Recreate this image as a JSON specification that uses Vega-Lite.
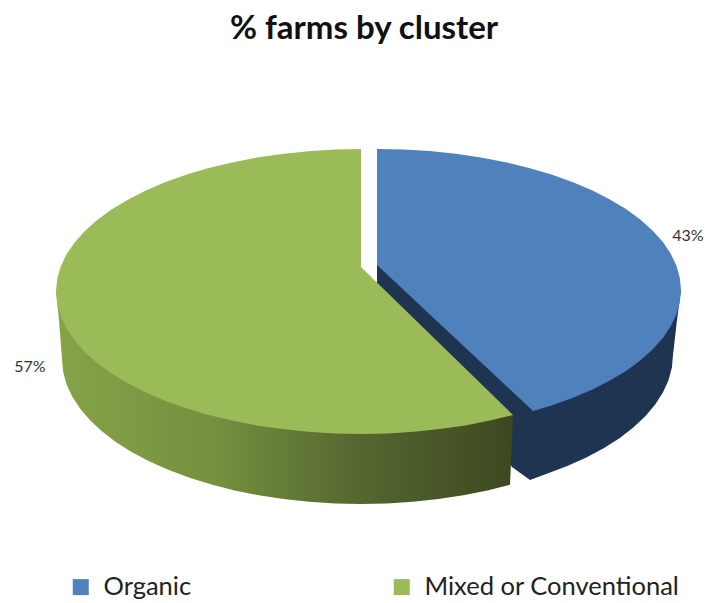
{
  "$schema": "https://vega.github.io/schema/vega-lite/v6.json",
  "width": 708,
  "height": 543,
  "autosize": {"type": "none"},
  "padding": {"left": 0, "top": 60, "right": 0, "bottom": 0},
  "background": "white",
  "title": {"text": "% farms by cluster", "font": "Lato", "fontSize": 33, "fontWeight": "bold", "color": "#111111", "anchor": "middle", "frame": "group", "dx": 10, "offset": 14},
  "config": {"view": {"stroke": null}},
  "datasets": {
    "outline": [
      {"cluster": "Organic", "part": "wall", "i": 0, "x": 377, "y": 265},
      {"cluster": "Organic", "part": "wall", "i": 1, "x": 377, "y": 285},
      {"cluster": "Organic", "part": "wall", "i": 2, "x": 480, "y": 420},
      {"cluster": "Organic", "part": "wall", "i": 3, "x": 512, "y": 467},
      {"cluster": "Organic", "part": "wall", "i": 4, "x": 530, "y": 480},
      {"cluster": "Organic", "part": "wall", "i": 5, "x": 546.8, "y": 473.8},
      {"cluster": "Organic", "part": "wall", "i": 6, "x": 567.3, "y": 466.1},
      {"cluster": "Organic", "part": "wall", "i": 7, "x": 586.3, "y": 457.5},
      {"cluster": "Organic", "part": "wall", "i": 8, "x": 603.7, "y": 448.2},
      {"cluster": "Organic", "part": "wall", "i": 9, "x": 619.5, "y": 438.2},
      {"cluster": "Organic", "part": "wall", "i": 10, "x": 633.3, "y": 427.5},
      {"cluster": "Organic", "part": "wall", "i": 11, "x": 645.3, "y": 416.3},
      {"cluster": "Organic", "part": "wall", "i": 12, "x": 655.2, "y": 404.6},
      {"cluster": "Organic", "part": "wall", "i": 13, "x": 662.9, "y": 392.5},
      {"cluster": "Organic", "part": "wall", "i": 14, "x": 668.5, "y": 380.2},
      {"cluster": "Organic", "part": "wall", "i": 15, "x": 671.9, "y": 367.6},
      {"cluster": "Organic", "part": "wall", "i": 16, "x": 673, "y": 355},
      {"cluster": "Organic", "part": "wall", "i": 17, "x": 677, "y": 320},
      {"cluster": "Organic", "part": "wall", "i": 18, "x": 681, "y": 290},

      {"cluster": "Mixed or Conventional", "part": "wall", "i": 0, "x": 513, "y": 415},
      {"cluster": "Mixed or Conventional", "part": "wall", "i": 1, "x": 510, "y": 484.7},
      {"cluster": "Mixed or Conventional", "part": "wall", "i": 2, "x": 487.4, "y": 490.4},
      {"cluster": "Mixed or Conventional", "part": "wall", "i": 3, "x": 463.3, "y": 495.3},
      {"cluster": "Mixed or Conventional", "part": "wall", "i": 4, "x": 438.4, "y": 499.1},
      {"cluster": "Mixed or Conventional", "part": "wall", "i": 5, "x": 412.9, "y": 501.8},
      {"cluster": "Mixed or Conventional", "part": "wall", "i": 6, "x": 387.1, "y": 503.4},
      {"cluster": "Mixed or Conventional", "part": "wall", "i": 7, "x": 361, "y": 504},
      {"cluster": "Mixed or Conventional", "part": "wall", "i": 8, "x": 334.9, "y": 503.4},
      {"cluster": "Mixed or Conventional", "part": "wall", "i": 9, "x": 309.1, "y": 501.8},
      {"cluster": "Mixed or Conventional", "part": "wall", "i": 10, "x": 283.6, "y": 499.1},
      {"cluster": "Mixed or Conventional", "part": "wall", "i": 11, "x": 258.7, "y": 495.3},
      {"cluster": "Mixed or Conventional", "part": "wall", "i": 12, "x": 234.6, "y": 490.4},
      {"cluster": "Mixed or Conventional", "part": "wall", "i": 13, "x": 211.5, "y": 484.6},
      {"cluster": "Mixed or Conventional", "part": "wall", "i": 14, "x": 189.5, "y": 477.8},
      {"cluster": "Mixed or Conventional", "part": "wall", "i": 15, "x": 168.8, "y": 470.1},
      {"cluster": "Mixed or Conventional", "part": "wall", "i": 16, "x": 149.6, "y": 461.5},
      {"cluster": "Mixed or Conventional", "part": "wall", "i": 17, "x": 132, "y": 452.2},
      {"cluster": "Mixed or Conventional", "part": "wall", "i": 18, "x": 116.1, "y": 442.2},
      {"cluster": "Mixed or Conventional", "part": "wall", "i": 19, "x": 102.1, "y": 431.5},
      {"cluster": "Mixed or Conventional", "part": "wall", "i": 20, "x": 90, "y": 420.3},
      {"cluster": "Mixed or Conventional", "part": "wall", "i": 21, "x": 80, "y": 408.6},
      {"cluster": "Mixed or Conventional", "part": "wall", "i": 22, "x": 72.2, "y": 396.5},
      {"cluster": "Mixed or Conventional", "part": "wall", "i": 23, "x": 66.5, "y": 384.2},
      {"cluster": "Mixed or Conventional", "part": "wall", "i": 24, "x": 63.1, "y": 371.6},
      {"cluster": "Mixed or Conventional", "part": "wall", "i": 25, "x": 62, "y": 359},
      {"cluster": "Mixed or Conventional", "part": "wall", "i": 26, "x": 59, "y": 320},
      {"cluster": "Mixed or Conventional", "part": "wall", "i": 27, "x": 56, "y": 291.5},
      {"cluster": "Mixed or Conventional", "part": "wall", "i": 28, "x": 361, "y": 291.5},

      {"cluster": "Organic", "part": "top", "i": 0, "x": 377, "y": 265},
      {"cluster": "Organic", "part": "top", "i": 1, "x": 377, "y": 149},
      {"cluster": "Organic", "part": "top", "i": 2, "x": 403.5, "y": 149.5},
      {"cluster": "Organic", "part": "top", "i": 3, "x": 429.8, "y": 151.1},
      {"cluster": "Organic", "part": "top", "i": 4, "x": 455.7, "y": 153.8},
      {"cluster": "Organic", "part": "top", "i": 5, "x": 481, "y": 157.5},
      {"cluster": "Organic", "part": "top", "i": 6, "x": 505.5, "y": 162.2},
      {"cluster": "Organic", "part": "top", "i": 7, "x": 529, "y": 167.9},
      {"cluster": "Organic", "part": "top", "i": 8, "x": 551.4, "y": 174.5},
      {"cluster": "Organic", "part": "top", "i": 9, "x": 572.4, "y": 182},
      {"cluster": "Organic", "part": "top", "i": 10, "x": 592, "y": 190.3},
      {"cluster": "Organic", "part": "top", "i": 11, "x": 609.9, "y": 199.4},
      {"cluster": "Organic", "part": "top", "i": 12, "x": 626, "y": 209.1},
      {"cluster": "Organic", "part": "top", "i": 13, "x": 640.3, "y": 219.5},
      {"cluster": "Organic", "part": "top", "i": 14, "x": 652.5, "y": 230.4},
      {"cluster": "Organic", "part": "top", "i": 15, "x": 662.7, "y": 241.8},
      {"cluster": "Organic", "part": "top", "i": 16, "x": 670.6, "y": 253.5},
      {"cluster": "Organic", "part": "top", "i": 17, "x": 676.4, "y": 265.5},
      {"cluster": "Organic", "part": "top", "i": 18, "x": 679.8, "y": 277.7},
      {"cluster": "Organic", "part": "top", "i": 19, "x": 681, "y": 290},
      {"cluster": "Organic", "part": "top", "i": 20, "x": 679.8, "y": 302.3},
      {"cluster": "Organic", "part": "top", "i": 21, "x": 676.4, "y": 314.5},
      {"cluster": "Organic", "part": "top", "i": 22, "x": 670.6, "y": 326.5},
      {"cluster": "Organic", "part": "top", "i": 23, "x": 662.7, "y": 338.2},
      {"cluster": "Organic", "part": "top", "i": 24, "x": 652.5, "y": 349.6},
      {"cluster": "Organic", "part": "top", "i": 25, "x": 640.3, "y": 360.5},
      {"cluster": "Organic", "part": "top", "i": 26, "x": 626, "y": 370.9},
      {"cluster": "Organic", "part": "top", "i": 27, "x": 609.9, "y": 380.6},
      {"cluster": "Organic", "part": "top", "i": 28, "x": 592, "y": 389.7},
      {"cluster": "Organic", "part": "top", "i": 29, "x": 572.4, "y": 398},
      {"cluster": "Organic", "part": "top", "i": 30, "x": 551.4, "y": 405.5},
      {"cluster": "Organic", "part": "top", "i": 31, "x": 533, "y": 411},

      {"cluster": "Mixed or Conventional", "part": "top", "i": 0, "x": 361, "y": 267},
      {"cluster": "Mixed or Conventional", "part": "top", "i": 1, "x": 361, "y": 149},
      {"cluster": "Mixed or Conventional", "part": "top", "i": 2, "x": 334.4, "y": 149.5},
      {"cluster": "Mixed or Conventional", "part": "top", "i": 3, "x": 308.1, "y": 151.2},
      {"cluster": "Mixed or Conventional", "part": "top", "i": 4, "x": 282.1, "y": 153.9},
      {"cluster": "Mixed or Conventional", "part": "top", "i": 5, "x": 256.7, "y": 157.6},
      {"cluster": "Mixed or Conventional", "part": "top", "i": 6, "x": 232.1, "y": 162.4},
      {"cluster": "Mixed or Conventional", "part": "top", "i": 7, "x": 208.5, "y": 168.1},
      {"cluster": "Mixed or Conventional", "part": "top", "i": 8, "x": 186, "y": 174.8},
      {"cluster": "Mixed or Conventional", "part": "top", "i": 9, "x": 164.9, "y": 182.3},
      {"cluster": "Mixed or Conventional", "part": "top", "i": 10, "x": 145.3, "y": 190.7},
      {"cluster": "Mixed or Conventional", "part": "top", "i": 11, "x": 127.4, "y": 199.9},
      {"cluster": "Mixed or Conventional", "part": "top", "i": 12, "x": 111.1, "y": 209.8},
      {"cluster": "Mixed or Conventional", "part": "top", "i": 13, "x": 96.9, "y": 220.25},
      {"cluster": "Mixed or Conventional", "part": "top", "i": 14, "x": 84.6, "y": 231.3},
      {"cluster": "Mixed or Conventional", "part": "top", "i": 15, "x": 74.4, "y": 242.8},
      {"cluster": "Mixed or Conventional", "part": "top", "i": 16, "x": 66.4, "y": 254.6},
      {"cluster": "Mixed or Conventional", "part": "top", "i": 17, "x": 60.6, "y": 266.8},
      {"cluster": "Mixed or Conventional", "part": "top", "i": 18, "x": 57.2, "y": 279.1},
      {"cluster": "Mixed or Conventional", "part": "top", "i": 19, "x": 56, "y": 291.5},
      {"cluster": "Mixed or Conventional", "part": "top", "i": 20, "x": 57.2, "y": 303.9},
      {"cluster": "Mixed or Conventional", "part": "top", "i": 21, "x": 60.6, "y": 316.2},
      {"cluster": "Mixed or Conventional", "part": "top", "i": 22, "x": 66.4, "y": 328.4},
      {"cluster": "Mixed or Conventional", "part": "top", "i": 23, "x": 74.4, "y": 340.2},
      {"cluster": "Mixed or Conventional", "part": "top", "i": 24, "x": 84.6, "y": 351.7},
      {"cluster": "Mixed or Conventional", "part": "top", "i": 25, "x": 96.9, "y": 362.75},
      {"cluster": "Mixed or Conventional", "part": "top", "i": 26, "x": 111.1, "y": 373.2},
      {"cluster": "Mixed or Conventional", "part": "top", "i": 27, "x": 127.4, "y": 383.1},
      {"cluster": "Mixed or Conventional", "part": "top", "i": 28, "x": 145.3, "y": 392.3},
      {"cluster": "Mixed or Conventional", "part": "top", "i": 29, "x": 164.9, "y": 400.7},
      {"cluster": "Mixed or Conventional", "part": "top", "i": 30, "x": 186, "y": 408.2},
      {"cluster": "Mixed or Conventional", "part": "top", "i": 31, "x": 208.5, "y": 414.9},
      {"cluster": "Mixed or Conventional", "part": "top", "i": 32, "x": 232.1, "y": 420.6},
      {"cluster": "Mixed or Conventional", "part": "top", "i": 33, "x": 256.7, "y": 425.4},
      {"cluster": "Mixed or Conventional", "part": "top", "i": 34, "x": 282.1, "y": 429.1},
      {"cluster": "Mixed or Conventional", "part": "top", "i": 35, "x": 308.1, "y": 431.8},
      {"cluster": "Mixed or Conventional", "part": "top", "i": 36, "x": 334.4, "y": 433.5},
      {"cluster": "Mixed or Conventional", "part": "top", "i": 37, "x": 361, "y": 434},
      {"cluster": "Mixed or Conventional", "part": "top", "i": 38, "x": 387.6, "y": 433.5},
      {"cluster": "Mixed or Conventional", "part": "top", "i": 39, "x": 413.9, "y": 431.8},
      {"cluster": "Mixed or Conventional", "part": "top", "i": 40, "x": 439.9, "y": 429.1},
      {"cluster": "Mixed or Conventional", "part": "top", "i": 41, "x": 465.3, "y": 425.4},
      {"cluster": "Mixed or Conventional", "part": "top", "i": 42, "x": 489.9, "y": 420.6},
      {"cluster": "Mixed or Conventional", "part": "top", "i": 43, "x": 513, "y": 415}
    ],
    "shares": [
      {"cluster": "Organic", "share": 0.43, "x": 688, "y": 236},
      {"cluster": "Mixed or Conventional", "share": 0.57, "x": 30, "y": 367}
    ]
  },
  "layer": [
    {
      "data": {"name": "outline"},
      "transform": [{"filter": "datum.part === 'wall' && datum.cluster === 'Organic'"}],
      "mark": {"type": "line", "fill": "#1f3451", "stroke": "#1f3451", "strokeWidth": 0},
      "encoding": {
        "x": {"field": "x", "type": "quantitative", "scale": {"domain": [0, 708]}, "axis": null},
        "y": {"field": "y", "type": "quantitative", "scale": {"domain": [603, 60]}, "axis": null},
        "order": {"field": "i", "type": "quantitative"}
      }
    },
    {
      "data": {"name": "outline"},
      "transform": [{"filter": "datum.part === 'wall' && datum.cluster !== 'Organic'"}],
      "mark": {
        "type": "line",
        "stroke": "#5a6b2f",
        "strokeWidth": 0,
        "fill": {
          "gradient": "linear", "x1": 0, "y1": 0, "x2": 1, "y2": 0,
          "stops": [
            {"offset": 0, "color": "#86a347"},
            {"offset": 0.35, "color": "#75903f"},
            {"offset": 0.65, "color": "#566830"},
            {"offset": 1, "color": "#3d4820"}
          ]
        }
      },
      "encoding": {
        "x": {"field": "x", "type": "quantitative", "scale": {"domain": [0, 708]}, "axis": null},
        "y": {"field": "y", "type": "quantitative", "scale": {"domain": [603, 60]}, "axis": null},
        "order": {"field": "i", "type": "quantitative"}
      }
    },
    {
      "data": {"name": "outline"},
      "transform": [{"filter": "datum.part === 'top'"}],
      "mark": {"type": "line", "stroke": "white", "strokeWidth": 0},
      "encoding": {
        "x": {"field": "x", "type": "quantitative", "scale": {"domain": [0, 708]}, "axis": null},
        "y": {"field": "y", "type": "quantitative", "scale": {"domain": [603, 60]}, "axis": null},
        "order": {"field": "i", "type": "quantitative"},
        "fill": {
          "field": "cluster",
          "type": "nominal",
          "scale": {"domain": ["Organic", "Mixed or Conventional"], "range": ["#4f81bd", "#9bbb59"]},
          "legend": {
            "title": null,
            "orient": "none",
            "legendX": 68,
            "legendY": 514,
            "direction": "horizontal",
            "columns": 2,
            "columnPadding": 197,
            "symbolType": "square",
            "symbolSize": 256,
            "symbolStrokeWidth": 0,
            "labelFont": "Lato",
            "labelFontSize": 25.5,
            "labelLimit": 320,
            "labelColor": "#222222",
            "labelOffset": 10
          }
        }
      }
    },
    {
      "data": {"name": "shares"},
      "mark": {"type": "text", "font": "Lato", "fontSize": 16, "color": "#333333"},
      "encoding": {
        "x": {"field": "x", "type": "quantitative", "scale": {"domain": [0, 708]}, "axis": null},
        "y": {"field": "y", "type": "quantitative", "scale": {"domain": [603, 60]}, "axis": null},
        "text": {"field": "share", "type": "quantitative", "format": ".0%"}
      }
    }
  ]
}
